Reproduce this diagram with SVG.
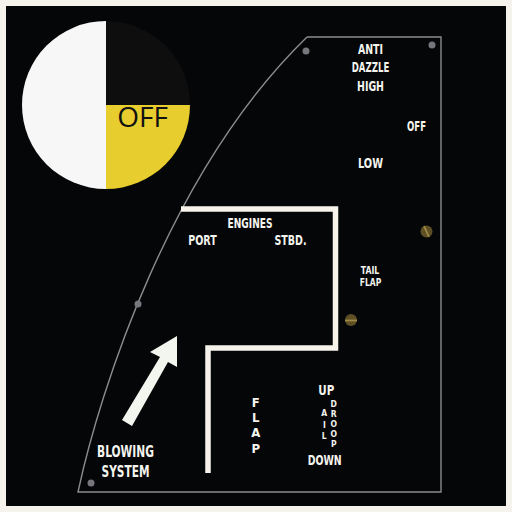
<svg xmlns="http://www.w3.org/2000/svg" width="512" height="512" viewBox="0 0 512 512">
<defs>
<style>
.lbl{font-family:"DejaVu Sans Condensed","DejaVu Sans",sans-serif;font-weight:bold;fill:#f4f4ee;text-anchor:middle}
.dot{fill:#77767c}
.edge{fill:none;stroke:#8c8c8c;stroke-width:1.4}
</style>
</defs>
<rect x="0" y="0" width="512" height="512" fill="#f6f2ec"/>
<rect x="6" y="6" width="500" height="500" fill="#050608"/>
<g id="indicator">
<path d="M106,21 A84,84 0 0 0 106,189 Z" fill="#f7f7f7"/>
<path d="M106,105 L106,21 A84,84 0 0 1 190,105 Z" fill="#0e0e0e"/>
<path d="M106,105 L190,105 A84,84 0 0 1 106,189 Z" fill="#e8cd2e"/>
<text x="142.5" y="127" font-family="'Open Sans','DejaVu Sans',sans-serif" font-size="28" fill="#111" text-anchor="middle">OFF</text>
</g>
<g id="panel">
<path class="edge" d="M307,37 H441 V492 H78 C100,390 170,170 307,37"/>
<circle class="dot" cx="306" cy="51" r="3.5"/>
<circle class="dot" cx="432" cy="45" r="3.5"/>
<circle class="dot" cx="138" cy="304" r="3.5"/>
<circle class="dot" cx="91" cy="483" r="3.5"/>
</g>
<g id="screws">
<circle cx="426.5" cy="231.5" r="6" fill="#5e4f24"/>
<line x1="424" y1="226" x2="429" y2="237" stroke="#a08a48" stroke-width="1.8"/>
<circle cx="351" cy="320" r="6" fill="#5e4f24"/>
<line x1="345" y1="320.5" x2="357" y2="320.5" stroke="#a08a48" stroke-width="1.8"/>
</g>
<g id="connectors">
<path d="M181,209 H335.5 V348 H208 V473" fill="none" stroke="#f7f2ea" stroke-width="5.5"/>
<polygon points="177,336 150,352 160,357 122,420 132,426 168,362 177,367" fill="#f2f6ee"/>
</g>
<g id="anti-dazzle">
<text class="lbl" x="370.5" y="54" font-size="14.5" textLength="25" lengthAdjust="spacingAndGlyphs">ANTI</text>
<text class="lbl" x="370.5" y="72" font-size="14.5" textLength="37.5" lengthAdjust="spacingAndGlyphs">DAZZLE</text>
<text class="lbl" x="370.5" y="91" font-size="14.5" textLength="27" lengthAdjust="spacingAndGlyphs">HIGH</text>
<text class="lbl" x="416.5" y="131" font-size="14.5" textLength="19" lengthAdjust="spacingAndGlyphs">OFF</text>
<text class="lbl" x="370.5" y="168" font-size="14.5" textLength="25" lengthAdjust="spacingAndGlyphs">LOW</text>
</g>
<g id="engines">
<text class="lbl" x="250" y="228.3" font-size="13.5" textLength="45" lengthAdjust="spacingAndGlyphs">ENGINES</text>
<text class="lbl" x="202.5" y="244.5" font-size="13.5" textLength="28.5" lengthAdjust="spacingAndGlyphs">PORT</text>
<text class="lbl" x="290.5" y="244.5" font-size="13.5" textLength="32" lengthAdjust="spacingAndGlyphs">STBD.</text>
</g>
<g id="tail-flap">
<text class="lbl" x="370" y="273.5" font-size="11" textLength="18.5" lengthAdjust="spacingAndGlyphs">TAIL</text>
<text class="lbl" x="370.5" y="286" font-size="11" textLength="21.5" lengthAdjust="spacingAndGlyphs">FLAP</text>
</g>
<g id="blowing-system">
<text class="lbl" x="125.5" y="457" font-size="15.5" textLength="57" lengthAdjust="spacingAndGlyphs">BLOWING</text>
<text class="lbl" x="125.5" y="477" font-size="15.5" textLength="48" lengthAdjust="spacingAndGlyphs">SYSTEM</text>
</g>
<g id="flap">
<text class="lbl" x="255.7" y="406.7" font-size="13">F</text>
<text class="lbl" x="255.7" y="421.7" font-size="13">L</text>
<text class="lbl" x="255.7" y="437" font-size="13">A</text>
<text class="lbl" x="255.7" y="453" font-size="13">P</text>
</g>
<g id="ail-droop">
<text class="lbl" x="326.3" y="395" font-size="13.5" textLength="16" lengthAdjust="spacingAndGlyphs">UP</text>
<text class="lbl" x="324.3" y="416" font-size="8.5">A</text>
<text class="lbl" x="324.3" y="428" font-size="8.5">I</text>
<text class="lbl" x="324.3" y="439" font-size="8.5">L</text>
<text class="lbl" x="333.7" y="407" font-size="8.5">D</text>
<text class="lbl" x="333.7" y="417" font-size="8.5">R</text>
<text class="lbl" x="333.7" y="427" font-size="8.5">O</text>
<text class="lbl" x="333.7" y="437" font-size="8.5">O</text>
<text class="lbl" x="333.7" y="447" font-size="8.5">P</text>
<text class="lbl" x="324.7" y="465" font-size="13.5" textLength="34" lengthAdjust="spacingAndGlyphs">DOWN</text>
</g>
</svg>
